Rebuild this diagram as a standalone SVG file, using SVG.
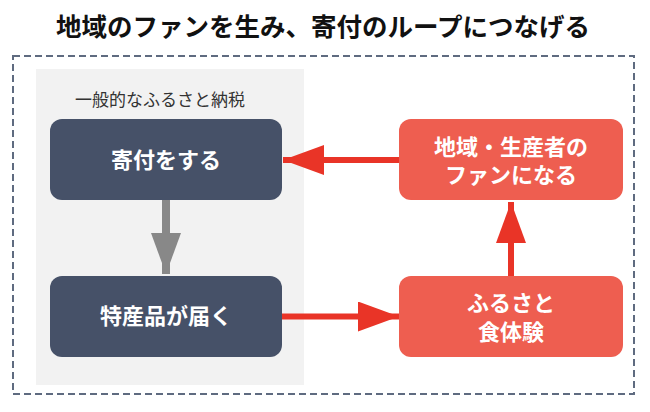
<svg xmlns="http://www.w3.org/2000/svg" width="650" height="412" viewBox="0 0 650 412">
<defs>
<style>
text{font-family:"Noto Sans CJK JP","Noto Sans CJK SC",sans-serif;text-anchor:middle}
.title{font-size:25.5px;font-weight:bold;fill:#111}
.lbl{font-size:17px;fill:#333}
.bt{font-size:22px;font-weight:bold;fill:#fff}
.dark{fill:#465168}
.red{fill:#EE5E50}
.rl{stroke:#E93427;stroke-width:6;fill:none}
.gl{stroke:#888;stroke-width:8;fill:none}
</style>
<marker id="ar" viewBox="0 0 41 30" refX="41" refY="15" markerWidth="41" markerHeight="30" markerUnits="userSpaceOnUse" orient="auto"><path d="M0,0 L41,15 L0,30 Z" fill="#E93427"/></marker>
<marker id="ag" viewBox="0 0 41 30" refX="41" refY="15" markerWidth="41" markerHeight="30" markerUnits="userSpaceOnUse" orient="auto"><path d="M0,0 L41,15 L0,30 Z" fill="#888"/></marker>
</defs>
<rect width="650" height="412" fill="#fff"/>
<text class="title" x="323" y="36">地域のファンを生み、寄付のループにつなげる</text>
<rect x="13" y="56" width="621" height="338" fill="none" stroke="#5F6B80" stroke-width="2" stroke-dasharray="7,4"/>
<g id="panel">
<rect x="36" y="69" width="268" height="316" fill="#F2F2F2"/>
<text class="lbl" x="160" y="106">一般的なふるさと納税</text>
</g>
<g id="connectors">
<line class="gl" x1="166" y1="200" x2="166" y2="274" marker-end="url(#ag)"/>
<line class="rl" x1="399" y1="160" x2="283" y2="160" marker-end="url(#ar)"/>
<line class="rl" x1="282" y1="316.5" x2="399" y2="316.5" marker-end="url(#ar)"/>
<line class="rl" x1="511" y1="276" x2="511" y2="202" marker-end="url(#ar)"/>
</g>
<g id="n1">
<rect class="dark" x="50" y="119" width="232" height="81" rx="12"/>
<text class="bt" x="166" y="168">寄付をする</text>
</g>
<g id="n2">
<rect class="dark" x="50" y="276" width="232" height="81" rx="12"/>
<text class="bt" x="166" y="324">特産品が届く</text>
</g>
<g id="n3">
<rect class="red" x="399" y="119" width="224" height="81" rx="12"/>
<text class="bt" x="511" y="155">地域・生産者の</text>
<text class="bt" x="511" y="183">ファンになる</text>
</g>
<g id="n4">
<rect class="red" x="399" y="276" width="224" height="81" rx="12"/>
<text class="bt" x="511" y="311">ふるさと</text>
<text class="bt" x="511" y="340">食体験</text>
</g>
</svg>
